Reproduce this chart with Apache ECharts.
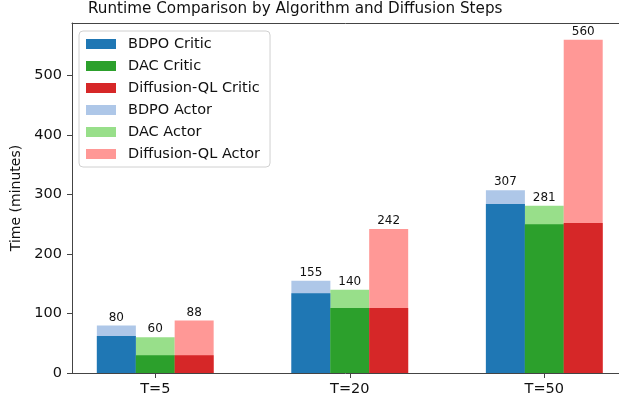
<!DOCTYPE html>
<html>
<head>
<meta charset="utf-8">
<script src="https://cdn.jsdelivr.net/npm/echarts@6/dist/echarts.min.js"></script>
<style>
  html, body { margin: 0; padding: 0; background: #fff; }
  #main { width: 619px; height: 402px; }
</style>
</head>
<body>
<div id="main"></div>
<script>
// 分组与算法
var steps = ['T=5', 'T=20', 'T=50']
var algos = ['BDPO', 'DAC', 'Diffusion-QL']
// critic 时间 与 总时间 (minutes)
var criticTime = {
  'BDPO': [62, 134, 284],
  'DAC': [30, 109, 250],
  'Diffusion-QL': [30, 109, 252]
}
var totalTime = {
  'BDPO': [80, 155, 307],
  'DAC': [60, 140, 281],
  'Diffusion-QL': [88, 242, 560]
}
var criticColors = ['#1f77b4', '#2ca02c', '#d62728']
var actorColors = ['#aec7e8', '#98df8a', '#ff9896']
var yTicks = [0, 100, 200, 300, 400, 500]

var barW = 0.2
var font = 'DejaVu Sans'

function points(arr, j) {
  return arr.map(function(v, i) { return [i + (j - 1) * barW, v] })
}

var series = []
algos.forEach(function(a, j) {
  series.push({
    name: a + ' Critic',
    type: 'bar',
    data: points(criticTime[a], j),
    barWidth: 39,
    barGap: '-100%',
    z: 3,
    itemStyle: { color: criticColors[j] }
  })
})
algos.forEach(function(a, j) {
  series.push({
    name: a + ' Actor',
    type: 'bar',
    data: points(totalTime[a], j),
    barWidth: 39,
    barGap: '-100%',
    z: 2,
    itemStyle: { color: actorColors[j] },
    label: {
      show: true,
      position: 'top',
      distance: 2,
      color: '#111',
      fontFamily: font,
      fontSize: 12,
      formatter: function(p) { return p.value[1] }
    }
  })
})

var chart = echarts.init(document.getElementById('main'))
chart.setOption({
  animation: false,
  title: {
    text: 'Runtime Comparison by Algorithm and Diffusion Steps',
    left: 88,
    top: 2,
    padding: 0,
    textStyle: { fontFamily: font, fontSize: 15.2, fontWeight: 'normal', color: '#111' }
  },
  legend: {
    orient: 'vertical',
    left: 79,
    top: 31,
    padding: [5, 10, 5, 7],
    icon: 'rect',
    itemWidth: 30,
    itemHeight: 10,
    itemGap: 6,
    backgroundColor: 'rgba(255,255,255,0.85)',
    borderColor: '#d0d0d0',
    borderWidth: 1,
    borderRadius: 4,
    data: series.map(function(s) { return s.name }),
    textStyle: { fontFamily: font, fontSize: 14.5, color: '#111', lineHeight: 16, padding: [0, 0, 0, 7] },
    itemStyle: { borderWidth: 0 }
  },
  grid: { left: 72, top: 23, right: 0, bottom: 29 },
  xAxis: [{
    type: 'value',
    min: -0.428,
    max: 2.384,
    splitLine: { show: false },
    axisLine: { onZero: false, lineStyle: { color: '#444', width: 1 } },
    axisTick: { show: true, customValues: [0, 1, 2], length: 5, lineStyle: { color: '#444' } },
    axisLabel: {
      customValues: [0, 1, 2],
      margin: 9,
      fontFamily: font,
      fontSize: 14.5,
      color: '#111',
      formatter: function(v) { return steps[Math.round(v)] }
    }
  }, {
    type: 'value',
    position: 'top',
    min: -0.428,
    max: 2.384,
    splitLine: { show: false },
    axisLine: { show: true, onZero: false, lineStyle: { color: '#444', width: 1 } },
    axisTick: { show: false },
    axisLabel: { show: false }
  }],
  yAxis: {
    type: 'value',
    min: 0,
    max: 588,
    name: 'Time (minutes)',
    nameLocation: 'middle',
    nameGap: 42,
    nameTextStyle: { fontFamily: font, fontSize: 14, color: '#111' },
    splitLine: { show: false },
    axisLine: { show: true, onZero: false, lineStyle: { color: '#444', width: 1 } },
    axisTick: { show: true, customValues: yTicks, length: 5, lineStyle: { color: '#444' } },
    axisLabel: { customValues: yTicks, margin: 10, fontFamily: font, fontSize: 14.5, color: '#111' }
  },
  series: series
})
</script>
</body>
</html>
